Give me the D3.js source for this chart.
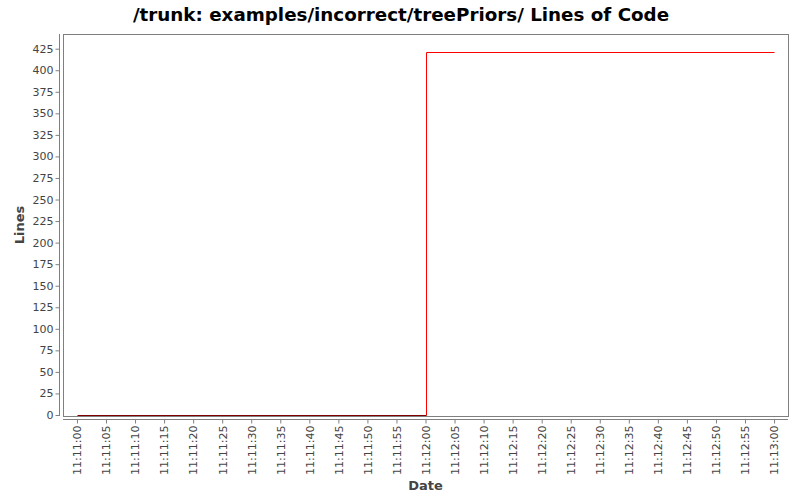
<!DOCTYPE html>
<html><head><meta charset="utf-8">
<script src="https://cdn.jsdelivr.net/npm/d3@7"></script>
<style>body{margin:0;background:#fff}svg{display:block}text{font-family:"DejaVu Sans",sans-serif}</style>
</head><body><svg id="c" width="800" height="500"></svg>
<script>
const title = "/trunk: examples/incorrect/treePriors/ Lines of Code";
const xLabel = "Date";
const yLabel = "Lines";
const times = ["11:11:00", "11:12:00", "11:13:00"];
const lines = [0, 421, 421];
const yTicks = [0,25,50,75,100,125,150,175,200,225,250,275,300,325,350,375,400,425];

const parse = d3.timeParse("%H:%M:%S");
const data = times.map((t,i)=>({t:parse(t), v:lines[i]}));
const svg = d3.select("#c");
const box = {l:63, r:788, t:34, b:416};

const t0 = data[0].t, t1 = data[data.length-1].t;
const span = t1 - t0, pad = span*0.02;
const x = d3.scaleTime().domain([new Date(+t0-pad), new Date(+t1+pad)]).range([box.l, box.r]);
const y = d3.scaleLinear().domain([0, d3.max(lines)*1.05]).range([box.b-1, box.t]);
const px = v => Math.round(v)+0.5;

svg.append("text").attr("x",401).attr("y",21).attr("text-anchor","middle")
  .style("font-size","18.3px").style("font-weight","bold").attr("fill","#000").text(title);

svg.append("rect").attr("x",box.l+0.5).attr("y",box.t+0.5).attr("width",box.r-box.l).attr("height",box.b-box.t)
  .attr("fill","#fff").attr("stroke","#808080").attr("stroke-width",1);

// y axis
const ya = svg.append("g").attr("transform",`translate(${box.l-3.5},0)`)
  .call(d3.axisLeft(y).tickValues(yTicks).tickSize(4).tickPadding(2));
ya.selectAll("path,line").attr("stroke","#808080");
ya.select("path").attr("d",`M0,${box.t}V${box.b}`);
ya.selectAll("text").style("font-size","11px").attr("fill","#444");

// x axis
const xTicks = d3.timeSecond.every(5).range(t0, new Date(+t1+1));
const xa = svg.append("g").attr("transform",`translate(0,${box.b+3.5})`)
  .call(d3.axisBottom(x).tickValues(xTicks).tickFormat(d3.timeFormat("%H:%M:%S")).tickSize(4));
xa.selectAll("path,line").attr("stroke","#808080");
xa.select("path").attr("d",`M${box.l},0H${box.r}`);
xa.selectAll("text").style("font-size","11px").attr("fill","#444")
  .attr("transform","rotate(-90)").attr("text-anchor","end").attr("dx","-6").attr("dy","0.35em").attr("x",0).attr("y",0);

svg.append("text").attr("x",(box.l+box.r)/2).attr("y",490).attr("text-anchor","middle")
  .style("font-size","13px").style("font-weight","bold").attr("fill","#444").text(xLabel);
svg.append("text").attr("transform",`translate(24,${(box.t+box.b)/2}) rotate(-90)`).attr("text-anchor","middle")
  .style("font-size","13px").style("font-weight","bold").attr("fill","#444").text(yLabel);

const line = d3.line().x(d=>px(x(d.t))).y(d=>px(y(d.v))).curve(d3.curveStepAfter);
// zero-valued stretch drawn darker as in the reference
const zeroSeg = data.slice(0,2).map(d=>({t:d.t, v:data[0].v}));
svg.append("path").datum(zeroSeg).attr("d",d3.line().x(d=>px(x(d.t))).y(d=>px(y(d.v))))
  .attr("fill","none").attr("stroke","#800000").attr("stroke-width",1);
svg.append("path").datum(data.slice(1)).attr("d",line).attr("fill","none").attr("stroke","#ff0000").attr("stroke-width",1);
svg.append("path").datum(data.slice(0,2)).attr("d",line).attr("fill","none").attr("stroke","#ff0000").attr("stroke-width",1)
  .attr("stroke-dasharray", d => `0 ${Math.abs(px(x(d[1].t))-px(x(d[0].t)))} 1000`);
</script></body></html>
